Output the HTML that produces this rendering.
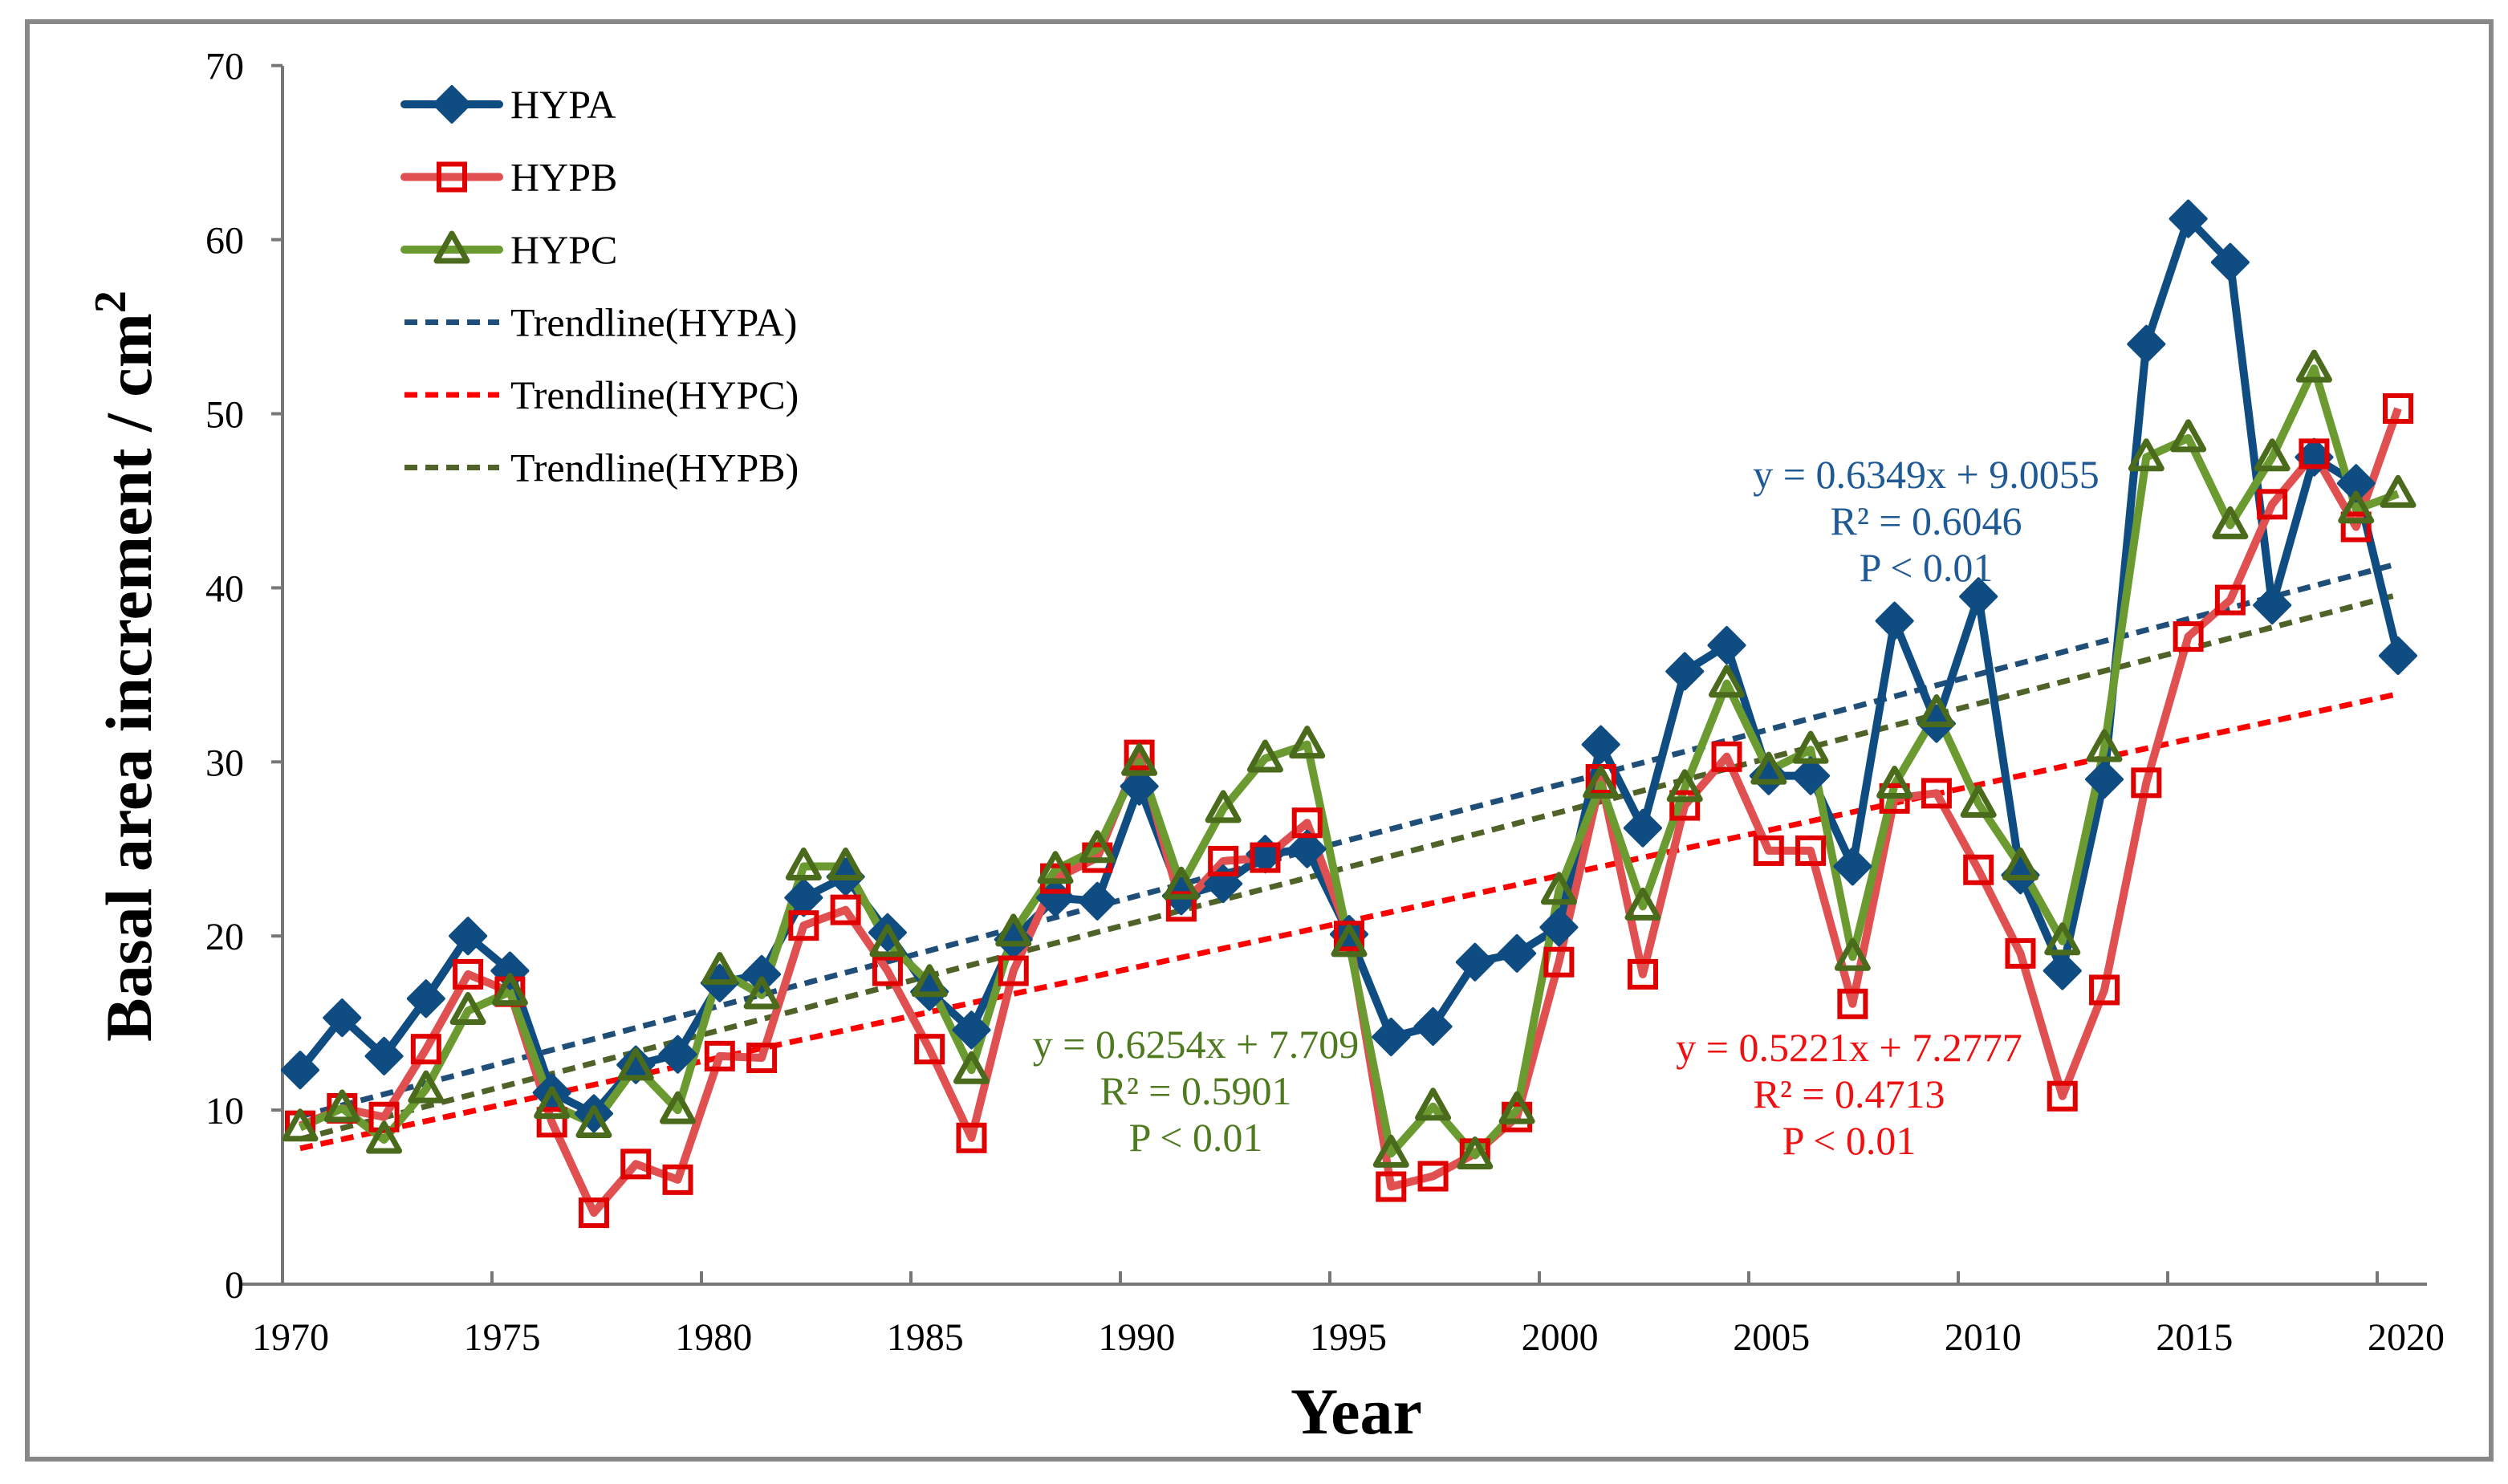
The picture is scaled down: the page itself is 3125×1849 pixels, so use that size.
<!DOCTYPE html>
<html><head><meta charset="utf-8"><style>
html,body{margin:0;padding:0;background:#fff;}
svg{display:block;font-family:"Liberation Serif","Times New Roman",serif;}
</style></head><body>
<svg id="chart" width="3125" height="1849" viewBox="0 0 3125 1849" xmlns="http://www.w3.org/2000/svg">
<rect x="0" y="0" width="3125" height="1849" fill="#fff"/>
<rect x="34" y="27" width="3070" height="1791" fill="none" stroke="#888" stroke-width="6"/>
<g id="axes"></g>
<g id="trends"></g>
<g id="series"></g>
<g id="legend"></g>
<g id="ann"></g>
</svg>
<script>
const years = [];
for (let y = 1970; y <= 2020; y++) years.push(y);
const hypa = [12.3,15.3,13.1,16.4,20,18,11,9.8,12.6,13.2,17.3,17.8,22.2,23.4,20.2,16.8,14.6,19.8,22.2,22,28.6,22.3,23,24.7,25,20.1,14.2,14.8,18.5,19,20.5,31,26.2,35.2,36.7,29.2,29.2,24,38.1,32.2,39.5,23.5,18,29,54,61.2,58.7,39,47.5,46,36.1];
const hypb = [9.1,10.1,9.6,13.5,17.8,16.8,9.3,4.1,6.9,6,13.1,13,20.6,21.5,18,13.5,8.4,18,23.3,24.5,30.4,21.7,24.3,24.5,26.5,20,5.6,6.2,7.5,9.6,18.5,29,17.8,27.5,30.3,24.9,24.9,16.1,27.9,28.2,23.8,19,10.8,16.9,28.8,37.2,39.3,44.8,47.7,43.5,50.3];
const hypc = [9,10.1,8.3,11.2,15.7,16.8,10.3,9.2,12.5,10,18,16.6,24,24,19.6,17.3,12.3,20.2,23.8,25,30,22.9,27.3,30.2,31,19.6,7.5,10.2,7.4,10,22.6,28.7,21.7,28.5,34.5,29.5,30.7,18.8,28.7,32.8,27.6,24,19.7,30.8,47.5,48.6,43.6,47.5,52.6,44.5,45.4];
const slopes = [0.6349, 0.5221, 0.6254];
const intercepts = [9.0055, 7.2777, 7.709];
const yTicks = [0,10,20,30,40,50,60,70];
const xTickLabels = [1970,1975,1980,1985,1990,1995,2000,2005,2010,2015,2020];

const NS = "http://www.w3.org/2000/svg";
function mk(tag, attrs, parent, text){const e=document.createElementNS(NS,tag);for(const k in attrs)e.setAttribute(k,attrs[k]);if(text!==undefined)e.textContent=text;parent.appendChild(e);return e;}
const yScale = v => 1600 - v*21.69;
const xPt = i => 374 + i*52.28;
const xTick = yr => 352 + (yr-1970)*52.2;
const xLab = yr => 362 + (yr-1970)*52.72;
const BLUE="#0f4c81", RED="#e05050", REDM="#e00000", GREEN="#6a9a30", GREENM="#4a6a1c";

const axes=document.getElementById('axes');
let e=mk('line',{x1:352,y1:82,x2:352,y2:1600,stroke:'#777','stroke-width':4},axes);

e=mk('line',{x1:300,y1:1600,x2:3024,y2:1600,stroke:'#777','stroke-width':4},axes);

yTicks.forEach(v=>{
  mk('line',{x1:338,y1:yScale(v),x2:352,y2:yScale(v),stroke:'#777','stroke-width':4},axes);
  const t=mk('text',{x:304,y:yScale(v)+17,'text-anchor':'end','font-size':48},axes,String(v));
  
  
});
xTickLabels.forEach(yr=>{
  mk('line',{x1:xTick(yr),y1:1584,x2:xTick(yr),y2:1600,stroke:'#777','stroke-width':4},axes);
  const t=mk('text',{x:xLab(yr),y:1682,'text-anchor':'middle','font-size':48},axes,String(yr));
  
  
});
e=mk('text',{x:1690,y:1786,'text-anchor':'middle','font-size':82,'font-weight':'bold'},axes,'Year');

e=mk('text',{x:0,y:0,'text-anchor':'middle','font-size':82,'font-weight':'bold',transform:'translate(188,830) rotate(-90)'},axes);

e.appendChild(document.createTextNode('Basal area increment / cm'));
const sup=mk('tspan',{dy:-32,'font-size':56},e,'2');

// trendlines
const trends=document.getElementById('trends');
const trendColors=['#1f4e79','#ff0000','#4f6228'];
const trendNames=['trendline-hypa','trendline-hypb','trendline-hypc'];
slopes.forEach((s,k)=>{
  const n=years.length;
  const l=mk('line',{x1:xPt(0),y1:yScale(s*1+intercepts[k]),x2:xPt(n-1),y2:yScale(s*n+intercepts[k]),stroke:trendColors[k],'stroke-width':7,'stroke-dasharray':'16 10'},trends);
  
  
});

// series
const sg=document.getElementById('series');
function drawSeries(vals,color,name){
  const pts=vals.map((v,i)=>xPt(i)+','+yScale(v)).join(' ');
  const p=mk('polyline',{points:pts,fill:'none',stroke:color,'stroke-width':10,'stroke-linejoin':'round'},sg);
  
  
}
drawSeries(hypa,BLUE,'hypa');
drawSeries(hypb,RED,'hypb');
drawSeries(hypc,GREEN,'hypc');
function diamond(x,y,g){return mk('polygon',{points:`${x},${y-22} ${x+22},${y} ${x},${y+22} ${x-22},${y}`,fill:BLUE,stroke:BLUE,'stroke-width':4,'stroke-linejoin':'round'},g);}
function square(x,y,g){return mk('rect',{x:x-16,y:y-16,width:32,height:32,fill:'none',stroke:REDM,'stroke-width':6},g);}
function tri(x,y,g){return mk('polygon',{points:`${x},${y-20} ${x+19},${y+14} ${x-19},${y+14}`,fill:'none',stroke:GREENM,'stroke-width':7,'stroke-linejoin':'round'},g);}
hypa.forEach((v,i)=>{const m=diamond(xPt(i),yScale(v),sg);
  
  });
hypb.forEach((v,i)=>{const m=square(xPt(i),yScale(v),sg);
  
  });
hypc.forEach((v,i)=>{const m=tri(xPt(i),yScale(v),sg);
  
  });

// legend
const lg=document.getElementById('legend');
const legItems=[['HYPA',BLUE,'solid',diamond],['HYPB',RED,'solid',square],['HYPC',GREEN,'solid',tri],
 ['Trendline(HYPA)','#1f4e79','dash'],['Trendline(HYPC)','#ff0000','dash'],['Trendline(HYPB)','#4f6228','dash']];
legItems.forEach((it,k)=>{
  const y=130+k*90.5;
  const g=mk('g',{},lg);
  
  
  if(it[2]==='solid'){
    mk('line',{x1:504,y1:y,x2:622,y2:y,stroke:it[1],'stroke-width':10,'stroke-linecap':'round'},g);
    it[3](563,y,g);
  } else {
    mk('line',{x1:504,y1:y,x2:622,y2:y,stroke:it[1],'stroke-width':7,'stroke-dasharray':'16 10'},g);
  }
  mk('text',{x:636,y:y+17,'font-size':50},g,it[0]);
});

// annotations
const an=document.getElementById('ann');
function ann(lines,x,y0,color,name){
  const t=mk('text',{x:x,y:y0,'text-anchor':'middle','font-size':50,fill:color},an);
  
  
  lines.forEach((s,i)=>mk('tspan',{x:x,dy:i?58:0},t,s));
}
ann(['y = 0.6349x + 9.0055','R² = 0.6046','P < 0.01'],2400,608,'#1f5a96','hypa-equation');
ann(['y = 0.6254x + 7.709','R² = 0.5901','P < 0.01'],1490,1318,'#4f7a20','hypc-equation');
ann(['y = 0.5221x + 7.2777','R² = 0.4713','P < 0.01'],2304,1322,'#ee1111','hypb-equation');
</script>
</body></html>
